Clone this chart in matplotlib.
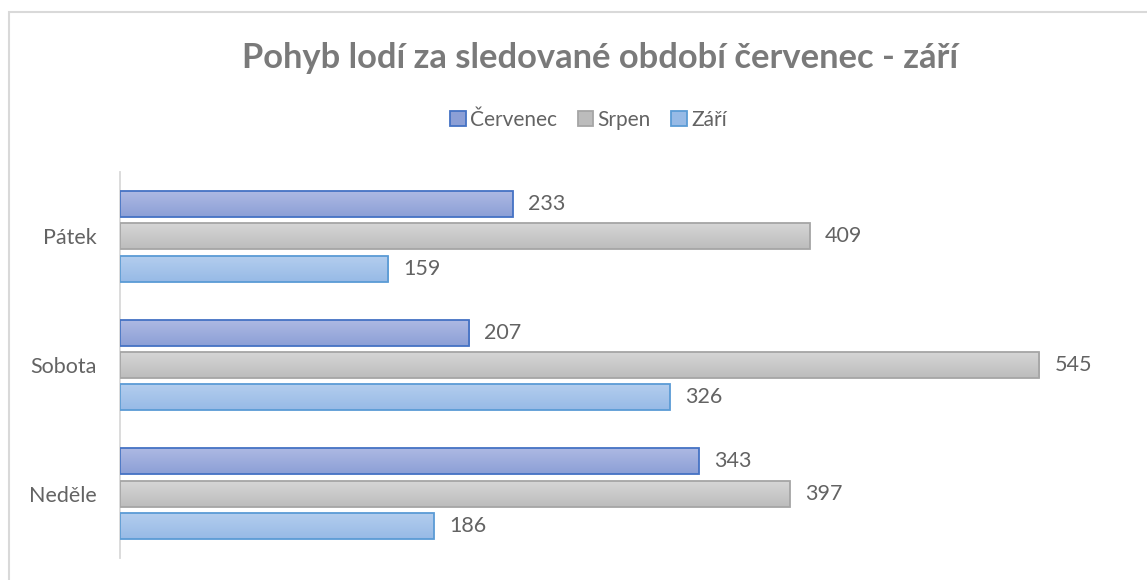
import matplotlib
matplotlib.use("Agg")
import matplotlib.pyplot as plt
import numpy as np
from matplotlib.patches import Rectangle
from matplotlib.colors import LinearSegmentedColormap

days = ["Pátek", "Sobota", "Neděle"]
months = ["Červenec", "Srpen", "Září"]
cervenec = [233, 207, 343]
srpen = [409, 545, 397]
zari = [159, 326, 186]

# (top colour, bottom colour, edge)
styles = [
    ("#adb9e3", "#8c9fd6", "#4472c4"),
    ("#d6d6d6", "#bcbcbc", "#a5a5a5"),
    ("#b3cdee", "#97bae6", "#5b9bd5"),
]

plt.rcParams['font.family'] = ['Lato', 'DejaVu Sans']
text_grey = "#636363"

fig = plt.figure(figsize=(11.47, 5.8), dpi=100)
fig.patch.set_facecolor("white")
# chart frame (only top/left edge visible in the crop)
fig.add_artist(Rectangle((9 / 1147, -0.1), 1.2, 1 - 12 / 580 + 0.1,
                         transform=fig.transFigure, fill=False,
                         edgecolor="#d9d9d9", linewidth=1.5))

ax = fig.add_axes([120 / 1147, 22 / 580, 1012 / 1147, 386 / 580])

y = np.arange(len(days))
off = 0.2525
h = 0.202
for i, (vals, (c_top, c_bot, c_edge)) in enumerate(zip([cervenec, srpen, zari], styles)):
    bars = ax.barh(y + (i - 1) * off, vals, height=h, color=c_bot,
                   edgecolor=c_edge, linewidth=1.3, label=months[i], zorder=2)
    cmap = LinearSegmentedColormap.from_list("g%d" % i, [c_top, c_bot])
    grad = np.linspace(0, 1, 64).reshape(-1, 1)
    for b in bars:
        x0, y0, w, hh = b.get_x(), b.get_y(), b.get_width(), b.get_height()
        im = ax.imshow(grad, cmap=cmap, aspect="auto",
                       extent=(x0, x0 + w, y0 + hh, y0), origin="upper",
                       zorder=2.5)
        im.set_clip_path(b)
        b.set_facecolor("none")
        b.set_zorder(3)
    ax.bar_label(bars, labels=[str(v) for v in vals], padding=11,
                 fontsize=15.5, color=text_grey)

ax.set_xlim(0, 600)
ax.set_ylim(len(days) - 0.5, -0.5)
ax.set_yticks(y)
ax.set_yticklabels(days, fontsize=15.5, color=text_grey)
ax.tick_params(axis="y", length=0, pad=17)
ax.set_xticks([])
for s in ["top", "right", "bottom"]:
    ax.spines[s].set_visible(False)
ax.spines["left"].set_color("#d9d9d9")
ax.spines["left"].set_linewidth(1.3)

fig.text(0.523, 1 - 58 / 580, "Pohyb lodí za sledované období červenec - září",
         ha="center", va="center", fontsize=24.8, fontweight="bold",
         color="#7a7a7a")

handles, labels = ax.get_legend_handles_labels()
leg = fig.legend(handles, labels, loc="center", ncol=3,
                 bbox_to_anchor=(0.513, 1 - 120 / 580), frameon=False,
                 fontsize=15, handlelength=0.75, handleheight=0.75,
                 handletextpad=0.2, columnspacing=1.0,
                 labelcolor=text_grey)
for p, (c_top, c_bot, c_edge) in zip(leg.get_patches(), styles):
    p.set_facecolor(c_bot)
    p.set_edgecolor(c_edge)

fig.savefig("out.png", dpi=100)
